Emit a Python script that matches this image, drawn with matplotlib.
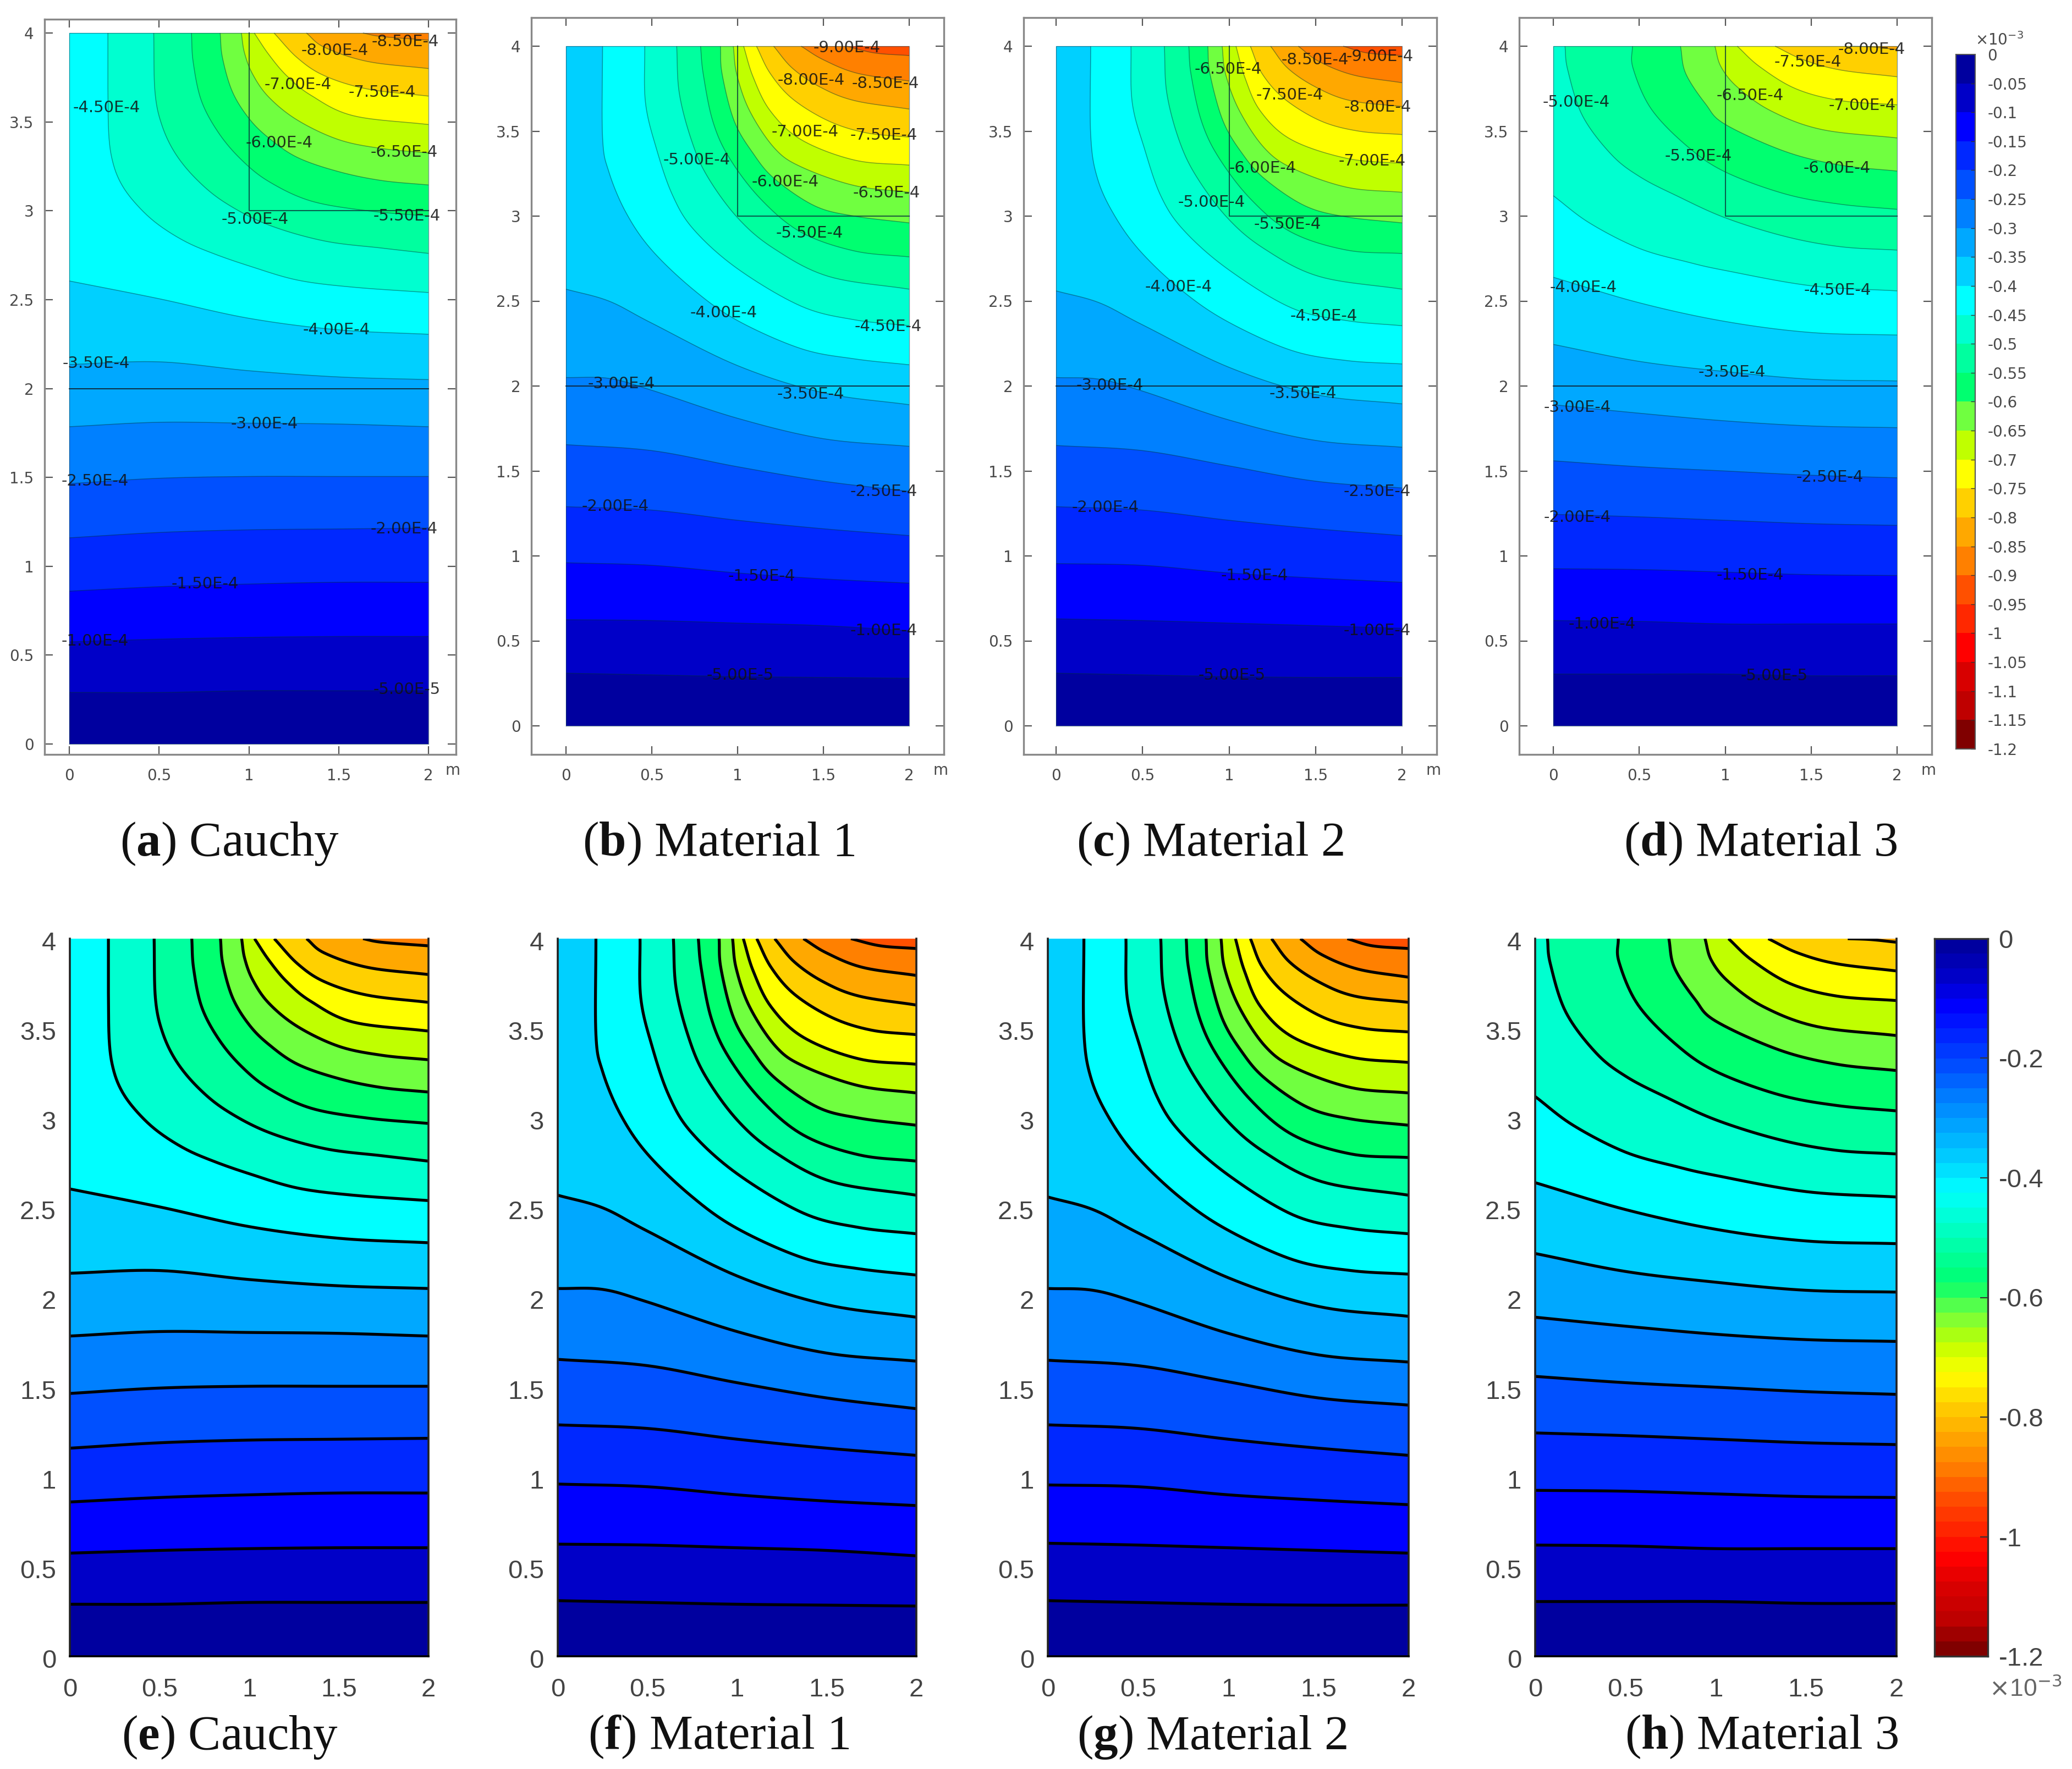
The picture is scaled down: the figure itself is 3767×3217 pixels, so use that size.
import numpy as np
import matplotlib
matplotlib.use('Agg')
import matplotlib.pyplot as plt
from matplotlib.colors import ListedColormap, LinearSegmentedColormap, BoundaryNorm
from matplotlib.transforms import ScaledTranslation

W, H = 3767, 3217

# contour levels, x 1e-3, each curve runs from the left or top edge to the right edge
levels = [-0.05, -0.1, -0.15, -0.2, -0.25, -0.3, -0.35, -0.4, -0.45, -0.5, -0.55, -0.6,
          -0.65, -0.7, -0.75, -0.8, -0.85, -0.9]

cauchy = [
    [[0, .29], [.5, .29], [1, .30], [1.5, .30], [2, .30]],
    [[0, .575], [.5, .59], [1, .60], [1.5, .605], [2, .605]],
    [[0, .86], [.5, .885], [1, .90], [1.5, .91], [2, .91]],
    [[0, 1.16], [.5, 1.19], [1, 1.205], [1.5, 1.21], [2, 1.215]],
    [[0, 1.465], [.5, 1.495], [1, 1.505], [1.5, 1.505], [2, 1.505]],
    [[0, 1.785], [.5, 1.81], [1, 1.805], [1.5, 1.80], [2, 1.785]],
    [[0, 2.135], [.5, 2.15], [1, 2.10], [1.5, 2.065], [2, 2.05]],
    [[0, 2.605], [.5, 2.505], [1, 2.395], [1.5, 2.33], [2, 2.305]],
    [[.215, 4], [.215, 3.7], [.22, 3.425], [.243, 3.27], [.29, 3.15], [.37, 3.04], [.485, 2.93], [.64, 2.83],
     [.80, 2.76], [1.0, 2.69], [1.27, 2.61], [1.58, 2.57], [2, 2.54]],
    [[.47, 4], [.477, 3.67], [.516, 3.48], [.595, 3.315], [.72, 3.165], [.876, 3.04], [1.11, 2.92],
     [1.42, 2.83], [1.74, 2.79], [2, 2.76]],
    [[.68, 4], [.69, 3.835], [.735, 3.62], [.83, 3.44], [.955, 3.29], [1.11, 3.165], [1.345, 3.055],
     [1.66, 3.0], [2, 2.97]],
    [[.84, 4], [.853, 3.86], [.908, 3.67], [1.0, 3.52], [1.11, 3.41], [1.27, 3.30], [1.50, 3.22],
     [1.74, 3.17], [2, 3.145]],
    [[.958, 4], [.975, 3.89], [1.02, 3.77], [1.11, 3.64], [1.27, 3.51], [1.50, 3.40], [1.74, 3.35], [2, 3.325]],
    [[1.03, 4], [1.11, 3.88], [1.21, 3.76], [1.345, 3.65], [1.58, 3.535], [2, 3.485]],
    [[1.14, 4], [1.27, 3.86], [1.42, 3.76], [1.66, 3.685], [2, 3.645]],
    [[1.32, 4], [1.42, 3.92], [1.66, 3.84], [2, 3.80]],
    [[1.635, 4], [1.74, 3.98], [2, 3.96]],
]

material1 = [
    [[0, .31], [.5, .30], [1, .29], [1.5, .285], [2, .28]],
    [[0, .625], [.5, .62], [1, .605], [1.5, .59], [2, .56]],
    [[0, .96], [.5, .945], [1, .90], [1.5, .865], [2, .84]],
    [[0, 1.29], [.5, 1.27], [1, 1.21], [1.5, 1.16], [2, 1.12]],
    [[0, 1.655], [.5, 1.62], [1, 1.525], [1.5, 1.44], [2, 1.38]],
    [[0, 2.05], [.25, 2.045], [.5, 1.975], [1, 1.81], [1.5, 1.69], [2, 1.645]],
    [[0, 2.57], [.25, 2.50], [.5, 2.37], [1, 2.12], [1.5, 1.96], [2, 1.89]],
    [[.213, 4], [.213, 3.465], [.25, 3.26], [.35, 3.02], [.50, 2.80], [.745, 2.565], [1.0, 2.385],
     [1.37, 2.22], [1.68, 2.16], [2, 2.125]],
    [[.459, 4], [.463, 3.67], [.526, 3.40], [.62, 3.125], [.745, 2.92], [1.0, 2.69], [1.37, 2.47],
     [1.68, 2.39], [2, 2.355]],
    [[.645, 4], [.66, 3.725], [.73, 3.45], [.823, 3.235], [1.0, 2.99], [1.21, 2.81], [1.53, 2.645], [2, 2.57]],
    [[.784, 4], [.80, 3.835], [.855, 3.56], [.95, 3.345], [1.135, 3.10], [1.37, 2.905], [1.68, 2.795], [2, 2.76]],
    [[.90, 4], [.91, 3.835], [.98, 3.56], [1.09, 3.37], [1.215, 3.22], [1.45, 3.06], [1.68, 3.0], [2, 2.96]],
    [[.975, 4], [.995, 3.835], [1.07, 3.62], [1.215, 3.40], [1.37, 3.29], [1.68, 3.18], [2, 3.14]],
    [[1.035, 4], [1.09, 3.82], [1.19, 3.62], [1.37, 3.45], [1.68, 3.33], [2, 3.30]],
    [[1.11, 4], [1.19, 3.84], [1.32, 3.69], [1.53, 3.56], [1.75, 3.49], [2, 3.465]],
    [[1.21, 4], [1.32, 3.87], [1.48, 3.76], [1.68, 3.68], [2, 3.63]],
    [[1.37, 4], [1.5, 3.92], [1.7, 3.84], [2, 3.795]],
    [[1.635, 4], [1.8, 3.96], [2, 3.945]],
]

material2 = [
    [[0, .31], [.5, .30], [1, .29], [1.5, .285], [2, .285]],
    [[0, .63], [.5, .62], [1, .605], [1.5, .59], [2, .575]],
    [[0, .955], [.5, .945], [1, .90], [1.5, .87], [2, .845]],
    [[0, 1.29], [.5, 1.27], [1, 1.21], [1.5, 1.16], [2, 1.12]],
    [[0, 1.65], [.5, 1.62], [1, 1.53], [1.5, 1.44], [2, 1.40]],
    [[0, 2.05], [.25, 2.04], [.5, 1.97], [1, 1.80], [1.5, 1.68], [2, 1.64]],
    [[0, 2.56], [.25, 2.49], [.5, 2.36], [1, 2.11], [1.5, 1.95], [2, 1.895]],
    [[.20, 4], [.20, 3.48], [.24, 3.22], [.34, 3.0], [.49, 2.79], [.73, 2.56], [.99, 2.38],
     [1.36, 2.21], [1.68, 2.15], [2, 2.13]],
    [[.433, 4], [.44, 3.67], [.51, 3.40], [.605, 3.12], [.735, 2.92], [.99, 2.69], [1.36, 2.46],
     [1.68, 2.385], [2, 2.355]],
    [[.626, 4], [.64, 3.725], [.71, 3.45], [.81, 3.235], [.99, 2.99], [1.2, 2.81], [1.52, 2.645], [2, 2.57]],
    [[.767, 4], [.78, 3.835], [.84, 3.56], [.94, 3.345], [1.125, 3.10], [1.36, 2.905], [1.68, 2.80], [2, 2.78]],
    [[.877, 4], [.89, 3.835], [.965, 3.56], [1.075, 3.37], [1.205, 3.22], [1.44, 3.06], [1.68, 2.995], [2, 2.96]],
    [[.96, 4], [.98, 3.835], [1.06, 3.62], [1.205, 3.40], [1.37, 3.28], [1.68, 3.17], [2, 3.14]],
    [[1.04, 4], [1.09, 3.82], [1.18, 3.62], [1.36, 3.45], [1.68, 3.34], [2, 3.31]],
    [[1.123, 4], [1.19, 3.84], [1.32, 3.69], [1.53, 3.56], [1.75, 3.50], [2, 3.48]],
    [[1.24, 4], [1.34, 3.87], [1.5, 3.76], [1.7, 3.68], [2, 3.645]],
    [[1.40, 4], [1.52, 3.91], [1.72, 3.83], [2, 3.785]],
    [[1.66, 4], [1.8, 3.96], [2, 3.945]],
]

material3 = [
    [[0, .305], [.5, .305], [1, .305], [1.5, .295], [2, .295]],
    [[0, .62], [.5, .615], [1, .60], [1.5, .60], [2, .60]],
    [[0, .925], [.5, .92], [1, .905], [1.5, .89], [2, .885]],
    [[0, 1.245], [.5, 1.23], [1, 1.21], [1.5, 1.19], [2, 1.18]],
    [[0, 1.56], [.5, 1.525], [1, 1.50], [1.5, 1.475], [2, 1.46]],
    [[0, 1.89], [.5, 1.84], [1, 1.795], [1.5, 1.765], [2, 1.755]],
    [[0, 2.245], [.5, 2.145], [1, 2.085], [1.5, 2.04], [2, 2.03]],
    [[0, 2.64], [.5, 2.49], [1, 2.38], [1.5, 2.315], [2, 2.30]],
    [[0, 3.12], [.21, 2.96], [.5, 2.81], [.78, 2.73], [1, 2.68], [1.5, 2.59], [2, 2.56]],
    [[.068, 4], [.084, 3.86], [.17, 3.59], [.34, 3.36], [.506, 3.23], [.717, 3.12], [1.0, 2.99],
     [1.35, 2.88], [1.67, 2.82], [2, 2.80]],
    [[.46, 4], [.464, 3.87], [.57, 3.63], [.78, 3.41], [1.0, 3.26], [1.35, 3.13], [1.67, 3.07], [2, 3.04]],
    [[.74, 4], [.77, 3.84], [.886, 3.66], [1.0, 3.54], [1.35, 3.38], [1.67, 3.30], [2, 3.265]],
    [[.94, 4], [.975, 3.88], [1.07, 3.76], [1.265, 3.62], [1.56, 3.51], [2, 3.46]],
    [[1.07, 4], [1.20, 3.88], [1.41, 3.75], [1.67, 3.68], [2, 3.655]],
    [[1.29, 4], [1.455, 3.92], [1.67, 3.86], [2, 3.82]],
    [[1.73, 4], [1.857, 3.995], [2, 3.98]],
]

labels_a = [('-8.50E-4', 1.87, 3.95), ('-8.00E-4', 1.478, 3.90), ('-7.00E-4', 1.272, 3.71), ('-7.50E-4', 1.742, 3.665),
            ('-4.50E-4', .209, 3.58), ('-6.00E-4', 1.17, 3.38), ('-6.50E-4', 1.865, 3.33), ('-5.00E-4', 1.035, 2.95),
            ('-5.50E-4', 1.88, 2.97), ('-4.00E-4', 1.487, 2.33), ('-3.50E-4', .148, 2.14), ('-3.00E-4', 1.088, 1.80),
            ('-2.50E-4', .142, 1.478), ('-2.00E-4', 1.865, 1.21), ('-1.50E-4', .757, .90), ('-1.00E-4', .142, .578),
            ('-5.00E-5', 1.88, .306)]
labels_b = [('-9.00E-4', 1.638, 3.99), ('-8.00E-4', 1.43, 3.80), ('-8.50E-4', 1.862, 3.78), ('-7.00E-4', 1.393, 3.495),
            ('-7.50E-4', 1.853, 3.475), ('-5.00E-4', .761, 3.33), ('-6.00E-4', 1.279, 3.20), ('-6.50E-4', 1.868, 3.135),
            ('-5.50E-4', 1.42, 2.90), ('-4.00E-4', .919, 2.43), ('-4.50E-4', 1.877, 2.35), ('-3.00E-4', .324, 2.013),
            ('-3.50E-4', 1.426, 1.95), ('-2.50E-4', 1.853, 1.38), ('-2.00E-4', .287, 1.29), ('-1.50E-4', 1.142, .88),
            ('-1.00E-4', 1.853, .56), ('-5.00E-5', 1.015, .297)]
labels_c = [('-8.50E-4', 1.498, 3.92), ('-9.00E-4', 1.872, 3.94), ('-6.50E-4', .995, 3.865), ('-7.50E-4', 1.352, 3.713),
            ('-8.00E-4', 1.859, 3.64), ('-7.00E-4', 1.826, 3.323), ('-6.00E-4', 1.196, 3.28), ('-5.00E-4', .899, 3.08),
            ('-5.50E-4', 1.337, 2.95), ('-4.00E-4', .707, 2.584), ('-4.50E-4', 1.549, 2.41), ('-3.00E-4', .31, 2.003),
            ('-3.50E-4', 1.428, 1.954), ('-2.50E-4', 1.857, 1.38), ('-2.00E-4', .285, 1.284), ('-1.50E-4', 1.147, .884),
            ('-1.00E-4', 1.857, .56), ('-5.00E-5', 1.017, .297)]
labels_d = [('-8.00E-4', 1.852, 3.98), ('-7.50E-4', 1.482, 3.907), ('-6.50E-4', 1.145, 3.71), ('-7.00E-4', 1.798, 3.65),
            ('-5.00E-4', .133, 3.67), ('-5.50E-4', .844, 3.353), ('-6.00E-4', 1.65, 3.28), ('-4.00E-4', .176, 2.58),
            ('-4.50E-4', 1.654, 2.564), ('-3.50E-4', 1.04, 2.08), ('-3.00E-4', .141, 1.875), ('-2.50E-4', 1.608, 1.462),
            ('-2.00E-4', .141, 1.228), ('-1.50E-4', 1.145, .888), ('-1.00E-4', .283, .60), ('-5.00E-5', 1.284, .294)]

x_ticks = [0, 0.5, 1, 1.5, 2]
y_ticks = [0, 0.5, 1, 1.5, 2, 2.5, 3, 3.5, 4]
tick_names_x = ['0', '0.5', '1', '1.5', '2']
tick_names_y = ['0', '0.5', '1', '1.5', '2', '2.5', '3', '3.5', '4']
cbar_ticks_top = ['0', '-0.05', '-0.1', '-0.15', '-0.2', '-0.25', '-0.3', '-0.35', '-0.4', '-0.45', '-0.5', '-0.55',
                  '-0.6', '-0.65', '-0.7', '-0.75', '-0.8', '-0.85', '-0.9', '-0.95', '-1', '-1.05', '-1.1', '-1.15', '-1.2']
cbar_ticks_bottom = ['0', '-0.2', '-0.4', '-0.6', '-0.8', '-1', '-1.2']
captions_top = [('a', 'Cauchy'), ('b', 'Material 1'), ('c', 'Material 2'), ('d', 'Material 3')]
captions_bottom = [('e', 'Cauchy'), ('f', 'Material 1'), ('g', 'Material 2'), ('h', 'Material 3')]

band_colors = ['#00009f', '#0000c8', '#0000ff', '#0028ff', '#0050ff', '#0080ff', '#00a8ff', '#00d0ff',
               '#00ffff', '#00ffd0', '#00ff9f', '#00ff70', '#70ff40', '#c0ff00', '#ffff00', '#ffd000',
               '#ffa800', '#ff8000', '#ff5000', '#ff2800', '#ff0000', '#d80000', '#bf0000', '#800000']

plt.rcParams['font.family'] = ['DejaVu Sans']
plt.rcParams['mathtext.fontset'] = 'custom'
plt.rcParams['mathtext.rm'] = 'Liberation Serif'
plt.rcParams['mathtext.bf'] = 'Liberation Serif:bold'


def px_axes(fig, l, t, r, b):
    return fig.add_axes([l / W, 1 - b / H, (r - l) / W, (b - t) / H])


def smooth(points):
    # catmull-rom through the read points, just so the curves don't look polygonal
    p = np.array(points, dtype=float)
    p = np.vstack([2 * p[0] - p[1], p, 2 * p[-1] - p[-2]])
    t = np.linspace(0, 1, 12, endpoint=False)[:, None]
    out = []
    for i in range(1, len(p) - 2):
        a, b, c, d = p[i - 1], p[i], p[i + 1], p[i + 2]
        out.append(0.5 * (2 * b + (c - a) * t + (2 * a - 5 * b + 4 * c - d) * t ** 2 + (3 * b - a - 3 * c + d) * t ** 3))
    out.append(p[-2][None, :])
    out = np.vstack(out)
    out[:, 0] = np.clip(out[:, 0], 0, 2)
    out[:, 1] = np.clip(out[:, 1], 0, 4)
    return out


def draw_field(ax, lines, lc, lw):
    ax.fill([0, 2, 2, 0], [0, 0, 4, 4], color=band_colors[0], lw=0, zorder=1)
    for i, pts in enumerate(lines):
        c = smooth(pts)
        xs = list(c[:, 0]) + [2]
        ys = list(c[:, 1]) + [4]
        if c[0, 0] == 0:
            xs.append(0)
            ys.append(4)
        ax.fill(xs, ys, color=band_colors[i + 1], lw=0, zorder=1 + i * 0.01)
    for pts in lines:
        c = smooth(pts)
        ax.plot(c[:, 0], c[:, 1], color=lc, lw=lw, zorder=2, solid_capstyle='butt')


fig = plt.figure(figsize=(W / 100, H / 100), dpi=100)

# top row, comsol style plots
top_frames = [(81, 35, 829, 1372, 126, 779, 60, 1353),
              (966, 32, 1716, 1372, 1029, 1653, 84, 1320),
              (1861, 32, 2612, 1372, 1920, 2549, 84, 1320),
              (2762, 32, 3512, 1372, 2824, 3449, 84, 1320)]
gray = '#4a4a4a'
for frame, lines, labs in zip(top_frames, [cauchy, material1, material2, material3],
                              [labels_a, labels_b, labels_c, labels_d]):
    l, t, r, b, x0, x2, y4, y0 = frame
    ax = px_axes(fig, l, t, r, b)
    ax.set_xlim((l - x0) / (x2 - x0) * 2, (r - x0) / (x2 - x0) * 2)
    ax.set_ylim((y0 - b) / (y0 - y4) * 4, (y0 - t) / (y0 - y4) * 4)
    draw_field(ax, lines, (0, 0.2, 0.2, 0.45), 1.1)
    ax.plot([0, 2], [2, 2], color='#123', lw=1.3, zorder=3)
    ax.plot([1, 1, 2], [4, 3, 3], color='#0a3a3a', lw=1.5, alpha=0.8, zorder=3)
    ax.plot([0, 2, 2, 0, 0], [0, 0, 4, 4, 0], color=(0, 0.2, 0.3, 0.5), lw=1, zorder=3)
    for s, x, y in labs:
        ax.text(x, y, s, fontsize=21, color='#111', ha='center', va='center', zorder=4, clip_on=False, alpha=0.85)
    ax.set_xticks(x_ticks, tick_names_x, fontsize=20, color=gray)
    ax.set_yticks(y_ticks, tick_names_y, fontsize=20, color=gray)
    ax.tick_params(axis='both', direction='in', length=11, width=1.6, color='#555', top=True, right=True)
    ax.tick_params(axis='x', pad=18)
    ax.tick_params(axis='y', pad=14)
    for sp in ax.spines.values():
        sp.set_color('#888888')
        sp.set_linewidth(2.4)
    fig.text((r + 8) / W, 1 - (b + 29) / H, 'm', fontsize=20, color=gray, ha='right', va='center')

# top colorbar
bar_levels = np.arange(-1.2, 0.0001, 0.05)
cmap_top = ListedColormap(band_colors[::-1])
cax = px_axes(fig, 3556, 99, 3591, 1362)
cax.pcolormesh([0, 1], bar_levels, np.array([bar_levels[:-1] + 0.025]).T, cmap=cmap_top,
               norm=BoundaryNorm(bar_levels, 24))
cax.set_xticks([])
cax.yaxis.tick_right()
cax.set_yticks(bar_levels[::-1], cbar_ticks_top, fontsize=20, color=gray)
cax.tick_params(axis='y', direction='in', length=6, width=1, color='#333', pad=16)
for sp in cax.spines.values():
    sp.set_color('#555555')
    sp.set_linewidth(1.5)
fig.text(3591 / W, 1 - 73 / H, r'$\times$10$^{-3}$', fontsize=20, color=gray, ha='left', va='center',
         math_fontfamily='dejavusans')

# bottom row, matlab style plots
bottom_frames = [(127, 779), (1014, 1666), (1905, 2561), (2791, 3448)]
shift_down = ScaledTranslation(0, -4 / 100, fig.dpi_scale_trans)
for (l, r), lines in zip(bottom_frames, [cauchy, material1, material2, material3]):
    ax = px_axes(fig, l, 1707, r, 3012)
    ax.set_xlim(0, 2)
    ax.set_ylim(0, 4)
    draw_field(ax, lines, 'black', 3.8)
    ax.set_xticks(x_ticks, tick_names_x, fontsize=34, color='#444444', family='Liberation Sans')
    ax.set_yticks(y_ticks, tick_names_y, fontsize=34, color='#444444', family='Liberation Sans')
    ax.tick_params(axis='x', length=0, pad=28)
    ax.tick_params(axis='y', length=0, pad=18)
    for lab in ax.get_yticklabels():
        lab.set_transform(lab.get_transform() + shift_down)
    ax.spines['top'].set_visible(False)
    for name in ['left', 'right', 'bottom']:
        ax.spines[name].set_color('#222222')
        ax.spines[name].set_linewidth(2.6)
    ax.spines['bottom'].set_color('black')

# bottom colorbar, finer steps blended from the band colours
fine_levels = np.arange(-1.2, 0.0001, 0.025)
cmap_bottom = LinearSegmentedColormap.from_list('bands', band_colors[::-1], N=48)
cax = px_axes(fig, 3517, 1707, 3614, 3012)
cax.pcolormesh([0, 1], fine_levels, np.array([fine_levels[:-1] + 0.0125]).T, cmap=cmap_bottom,
               norm=BoundaryNorm(fine_levels, 48))
cax.set_xticks([])
cax.yaxis.tick_right()
cax.set_yticks(bar_levels[::-1][::4], cbar_ticks_bottom, fontsize=34, color='#444444', family='Liberation Sans')
cax.tick_params(axis='y', direction='in', length=10, width=1.5, color='#333', pad=14)
for sp in cax.spines.values():
    sp.set_color('#333333')
    sp.set_linewidth(2.4)
fig.text(3616 / W, 1 - 3072 / H, r'$\times$10$^{-3}$', fontsize=32, color='#666666', ha='left', va='center',
         family='Liberation Sans', math_fontfamily='dejavusans')

# captions
for (letter, name), cx in zip(captions_top, [418, 1307, 2200, 3200]):
    fig.text(cx / W, 1 - 1535 / H, r'($\mathbf{%s}$) %s' % (letter, name), fontsize=64, color='#111111',
             family='Liberation Serif', ha='center', va='center')
for (letter, name), cx in zip(captions_bottom, [418, 1307, 2203, 3202]):
    fig.text(cx / W, 1 - 3159 / H, r'($\mathbf{%s}$) %s' % (letter, name), fontsize=64, color='#111111',
             family='Liberation Serif', ha='center', va='center')

fig.savefig('out.png', dpi=100)
